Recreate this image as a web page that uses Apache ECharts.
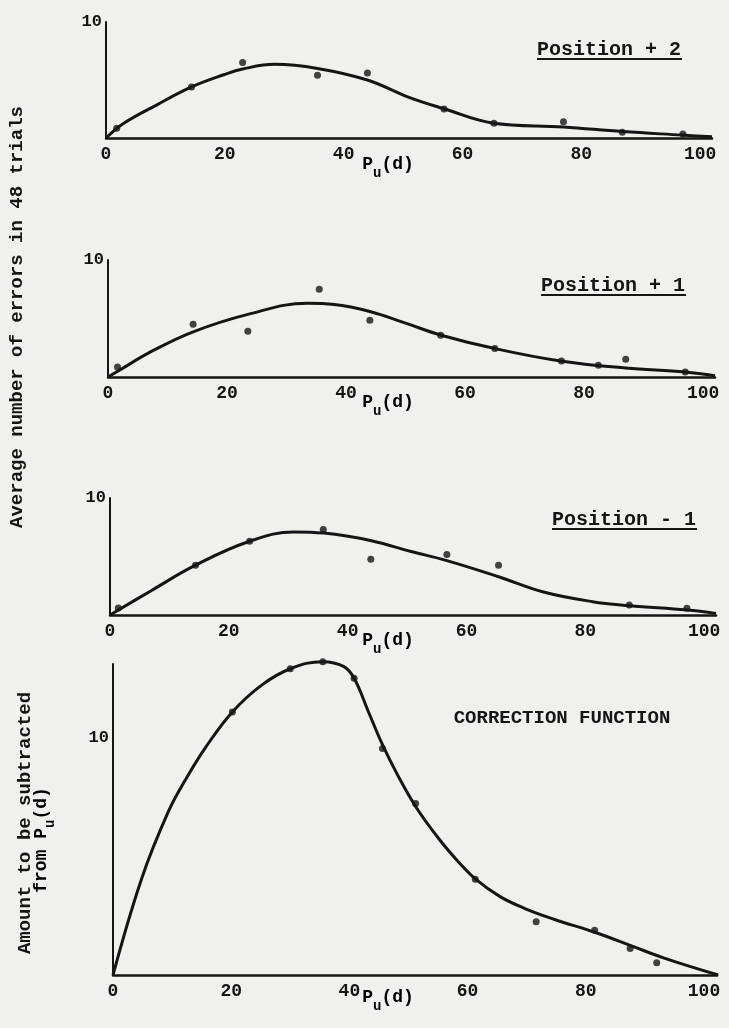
<!DOCTYPE html>
<html>
<head>
<meta charset="utf-8">
<title>Correction function</title>
<script src="https://cdn.jsdelivr.net/npm/echarts@6/dist/echarts.min.js"></script>
<style>
  html, body { margin: 0; padding: 0; background: #f0f0ee; }
  #main { width: 729px; height: 1028px; }
</style>
</head>
<body>
<div id="main"></div>
<script>
// x ticks shared by all four panels
var xTicks = [0, 20, 40, 60, 80, 100];

// Position + 2 : observed points and fitted curve
var pos2DotX = [1.8, 14.4, 23.0, 35.6, 44.0, 56.9, 65.3, 77.0, 86.9, 97.1];
var pos2DotY = [0.84, 4.4, 6.5, 5.4, 5.6, 2.5, 1.27, 1.4, 0.5, 0.34];
var pos2CurveX = [0, 3, 8.5, 14.4, 19.8, 23, 28.4, 35.6, 44, 51, 57, 65, 77, 87, 97, 102];
var pos2CurveY = [0, 1.27, 2.84, 4.4, 5.45, 5.95, 6.35, 6.0, 5.0, 3.5, 2.5, 1.3, 0.95, 0.55, 0.25, 0.1];

// Position + 1
var pos1DotX = [1.6, 14.3, 23.5, 35.5, 44.0, 55.9, 65.0, 76.2, 82.4, 87.0, 97.0];
var pos1DotY = [0.86, 4.5, 3.9, 7.5, 4.86, 3.57, 2.43, 1.37, 1.0, 1.52, 0.43];
var pos1CurveX = [0, 2, 7, 14, 23.5, 33.5, 38, 44, 50, 56, 65, 76, 87, 97, 102];
var pos1CurveY = [0, 0.6, 2.1, 3.8, 5.35, 6.3, 6.2, 5.6, 4.6, 3.57, 2.43, 1.37, 0.77, 0.43, 0.1];

// Position - 1
var neg1DotX = [1.4, 14.4, 23.5, 35.9, 43.9, 56.7, 65.4, 87.4, 97.1];
var neg1DotY = [0.6, 4.26, 6.3, 7.3, 4.77, 5.17, 4.26, 0.85, 0.57];
var neg1CurveX = [0, 7, 14.4, 23.5, 31, 36, 44, 50.5, 56.7, 65.4, 72.8, 81.2, 87.4, 97.1, 102];
var neg1CurveY = [0, 2.1, 4.26, 6.3, 7.1, 7.0, 6.35, 5.45, 4.65, 3.27, 1.99, 1.14, 0.8, 0.43, 0.14];

// correction function
var corrDotX = [20.2, 30.0, 35.5, 40.8, 45.6, 51.2, 61.3, 71.6, 81.5, 87.5, 92.0];
var corrDotY = [11.08, 12.9, 13.2, 12.5, 9.54, 7.22, 4.03, 2.24, 1.89, 1.12, 0.52];
var corrCurveX = [0, 4.9, 9.4, 12.2, 15.7, 20.2, 25.1, 30.0, 35.5, 39.0, 40.8, 43.2, 45.6, 48.1, 51.2, 55.1, 58.5, 61.3, 65.5, 69.7, 74.6, 81.5, 87.5, 93.4, 102.4];
var corrCurveY = [0, 4.1, 6.9, 8.2, 9.6, 11.08, 12.2, 12.9, 13.2, 13.0, 12.5, 11.1, 9.7, 8.45, 7.1, 5.75, 4.75, 4.05, 3.3, 2.8, 2.35, 1.8, 1.25, 0.7, 0];

var panelTitles = ['Position + 2', 'Position + 1', 'Position - 1'];
var yTitle = 'Average number of errors in 48 trials';

function pairs(xs, ys) {
    return xs.map(function (x, i) { return [x, ys[i]]; });
}

var ink = '#151515';
var mono = '"Liberation Mono", "DejaVu Sans Mono", monospace';

var chart = echarts.init(document.getElementById('main'));

// grid boxes for the 4 panels
var grids = [
    { left: 106, top: 22, width: 606, height: 116 },
    { left: 108, top: 260, width: 607, height: 117 },
    { left: 110, top: 498, width: 606, height: 117 },
    { left: 113, top: 664, width: 604, height: 311 }
];
var yMaxes = [10, 10, 10, 13.1];
var xMaxes = [102, 102, 102, 102.2];

var xAxes = grids.map(function (g, i) {
    return {
        type: 'value', gridIndex: i, min: 0, max: xMaxes[i], interval: 20,
        splitLine: { show: false }, axisTick: { show: false },
        axisLine: { onZero: false, lineStyle: { color: ink, width: 2.5 } },
        axisLabel: {
            margin: 7, color: ink, fontFamily: mono, fontWeight: 'bold', fontSize: 18,
            showMaxLabel: false,
            formatter: function (v) { return xTicks.indexOf(v) >= 0 ? String(v) : ''; }
        }
    };
});
var yAxes = grids.map(function (g, i) {
    return {
        type: 'value', gridIndex: i, min: 0, max: yMaxes[i], interval: 10,
        splitLine: { show: false }, axisTick: { show: false },
        axisLine: { show: true, lineStyle: { color: ink, width: 2 } },
        axisLabel: {
            margin: 4, color: ink, fontFamily: mono, fontWeight: 'bold', fontSize: 17,
            showMaxLabel: i < 3,
            formatter: function (v) { return v === 10 ? '10' : ''; }
        }
    };
});

var curves = [pairs(pos2CurveX, pos2CurveY), pairs(pos1CurveX, pos1CurveY), pairs(neg1CurveX, neg1CurveY), pairs(corrCurveX, corrCurveY)];
var dots = [pairs(pos2DotX, pos2DotY), pairs(pos1DotX, pos1DotY), pairs(neg1DotX, neg1DotY), pairs(corrDotX, corrDotY)];

var series = [];
curves.forEach(function (c, i) {
    series.push({
        type: 'line', xAxisIndex: i, yAxisIndex: i, data: c, smooth: 0.4, clip: false,
        symbol: 'none', lineStyle: { color: ink, width: 3 }, silent: true
    });
    series.push({
        type: 'scatter', xAxisIndex: i, yAxisIndex: i, data: dots[i], clip: false,
        symbolSize: 7, itemStyle: { color: ink }
    });
});

// texts: panel titles, axis names, y titles
var graphic = [];
var titleBoxes = [[537, 50], [541, 286], [552, 520]];
panelTitles.forEach(function (t, i) {
    graphic.push({
        type: 'text', x: titleBoxes[i][0], y: titleBoxes[i][1],
        style: { text: t, font: 'bold 20px ' + mono, fill: ink, textAlign: 'left', textVerticalAlign: 'middle' }
    });
    graphic.push({
        type: 'line', shape: { x1: titleBoxes[i][0], y1: titleBoxes[i][1] + 9, x2: titleBoxes[i][0] + 145, y2: titleBoxes[i][1] + 9 },
        style: { stroke: ink, lineWidth: 2 }
    });
});
graphic.push({
    type: 'text', x: 562, y: 718,
    style: { text: 'CORRECTION FUNCTION', font: 'bold 19px ' + mono, fill: ink, textAlign: 'center', textVerticalAlign: 'middle' }
});

var puRich = {
    a: { fontFamily: mono, fontWeight: 'bold', fontSize: 18, lineHeight: 20, padding: [0, 0, 7, 0], verticalAlign: 'bottom', color: ink },
    b: { fontFamily: mono, fontWeight: 'bold', fontSize: 14, lineHeight: 16, verticalAlign: 'bottom', color: ink }
};
[170, 408, 646, 1003].forEach(function (y) {
    graphic.push({
        type: 'text', x: 388, y: y,
        style: { text: '{a|P}{b|u}{a|(d)}', rich: puRich, textAlign: 'center', textVerticalAlign: 'middle' }
    });
});

graphic.push({
    type: 'text', x: 17, y: 317, rotation: Math.PI / 2,
    style: { text: yTitle, font: 'bold 19px ' + mono, fill: ink, textAlign: 'center', textVerticalAlign: 'middle' }
});
graphic.push({
    type: 'text', x: 25, y: 823, rotation: Math.PI / 2,
    style: { text: 'Amount to be subtracted', font: 'bold 19px ' + mono, fill: ink, textAlign: 'center', textVerticalAlign: 'middle' }
});
graphic.push({
    type: 'text', x: 47, y: 840, rotation: Math.PI / 2,
    style: { text: '{a|from P}{b|u}{a|(d)}', rich: puRich, textAlign: 'center', textVerticalAlign: 'middle' }
});

chart.setOption({
    backgroundColor: '#f0f0ee',
    animation: false,
    grid: grids,
    xAxis: xAxes,
    yAxis: yAxes,
    series: series,
    graphic: graphic
});
</script>
</body>
</html>
